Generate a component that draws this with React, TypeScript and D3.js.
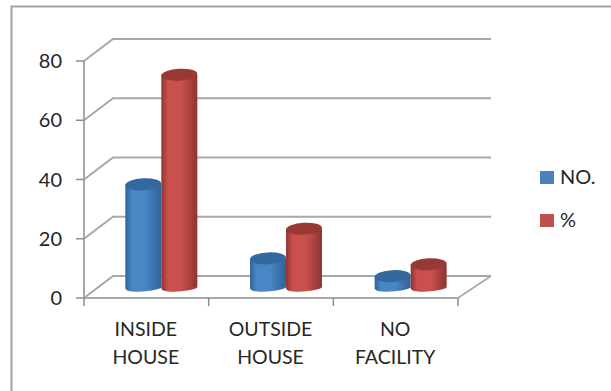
import React from "react";
import * as d3 from "d3";

const categories = [["INSIDE", "HOUSE"], ["OUTSIDE", "HOUSE"], ["NO", "FACILITY"]];
const countValues = [35, 10, 4];
const percentValues = [72, 20, 8];
const yTicks = [0, 20, 40, 60, 80];
const seriesNames = ["NO.", "%"];

const W = 611;
const H = 391;
const FONT = "Lato, 'Open Sans', sans-serif";
const AXIS = "#a8a8a8";
const TEXT = "#262626";

// Floor and wall of the 3D plot box
const frontLeft = 84;
const frontRight = 458;
const depthX = 29;
const depthY = -22;

const y = d3.scaleLinear().domain([0, 80]).range([298, 61]);
const x = d3.scaleBand<number>().domain([0, 1, 2]).range([frontLeft, frontRight]);
const barWidth = 36;
const baseLift = 10;
const ry = 6;

function Cylinder({ cx, value, fill, top }: { cx: number; value: number; fill: string; top: string }) {
  const yBase = y(0) - baseLift;
  const yTop = y(value) - baseLift;
  const rx = barWidth / 2;
  const d = d3.path();
  d.moveTo(cx - rx, yTop);
  d.lineTo(cx - rx, yBase);
  d.bezierCurveTo(cx - rx, yBase + ry * 1.2, cx + rx, yBase + ry * 0.4, cx + rx, yBase - 1);
  d.lineTo(cx + rx, yTop);
  d.closePath();
  return (
    <g>
      <path d={d.toString()} fill={`url(#${fill})`} />
      <ellipse cx={cx} cy={yTop} rx={rx} ry={ry} fill={top} transform={`rotate(-3 ${cx} ${yTop})`} />
    </g>
  );
}

function Gradient({ id, edge, mid }: { id: string; edge: string; mid: string }) {
  return (
    <linearGradient id={id} x1="0" x2="1" y1="0" y2="0">
      <stop offset="0" stopColor={edge} />
      <stop offset="0.18" stopColor={mid} />
      <stop offset="0.55" stopColor={mid} />
      <stop offset="1" stopColor={edge} />
    </linearGradient>
  );
}

export default function App() {
  const ticksX = [0, 1, 2, 3].map((i) => frontLeft + (i * (frontRight - frontLeft)) / 3);
  return (
    <svg width={W} height={H} style={{ position: "fixed", left: 0, top: 0, background: "#fff" }}>
      <defs>
        <Gradient id="blueBody" edge="#2f6399" mid="#4a86c6" />
        <Gradient id="redBody" edge="#8f3432" mid="#c9504d" />
      </defs>

      {/* outer chart frame */}
      <path d={`M611 6.5H11.5V391`} fill="none" stroke="#a3a3a3" strokeWidth={2} />

      {/* back-wall gridlines with their side-wall returns */}
      {yTicks.map((t) => (
        <path
          key={t}
          d={`M${frontLeft} ${y(t)}L${frontLeft + depthX} ${y(t) + depthY}H491`}
          fill="none"
          stroke={AXIS}
          strokeWidth={2}
        />
      ))}

      {/* floor */}
      <path d={`M${frontRight} ${y(0)}L491 ${y(0) + depthY}`} fill="none" stroke={AXIS} strokeWidth={1.6} />
      <path d={`M${frontLeft} ${y(0)}H${frontRight}`} stroke={AXIS} strokeWidth={2} fill="none" />
      <path d={`M${frontLeft} ${y(80)}V${y(0)}`} stroke={AXIS} strokeWidth={2} fill="none" />

      {/* axis ticks */}
      {yTicks.map((t) => (
        <path key={t} d={`M${frontLeft - 8} ${y(t)}H${frontLeft}`} stroke="#8c8c8c" strokeWidth={1.5} />
      ))}
      {ticksX.map((tx) => (
        <path key={tx} d={`M${tx} ${y(0)}V306`} stroke="#8c8c8c" strokeWidth={1.5} />
      ))}

      {/* y-axis labels */}
      {yTicks.map((t) => (
        <text key={t} x={62} y={y(t) + 7} textAnchor="end" fontFamily={FONT} fontSize={20} fill={TEXT}>
          {t}
        </text>
      ))}

      {/* cylinders, one pair per category */}
      {categories.map((_, i) => {
        const c = (x(i) as number) + x.bandwidth() / 2;
        return (
          <g key={i}>
            <Cylinder cx={c - 3} value={countValues[i]} fill="blueBody" top="#33699f" />
            <Cylinder cx={c + 33} value={percentValues[i]} fill="redBody" top="#983936" />
          </g>
        );
      })}

      {/* category labels */}
      {categories.map((lines, i) => {
        const c = (x(i) as number) + x.bandwidth() / 2;
        return (
          <text key={i} textAnchor="middle" fontFamily={FONT} fontSize={19.5} fill={TEXT}>
            {lines.map((line, j) => (
              <tspan key={j} x={c - 0.5} y={336 + j * 28}>
                {line}
              </tspan>
            ))}
          </text>
        );
      })}

      {/* legend */}
      {seriesNames.map((name, i) => (
        <g key={name}>
          <rect x={540} y={171 + i * 43} width={14} height={13} fill={i === 0 ? "#4a82be" : "#c0504d"} />
          <text x={560} y={184 + i * 43} fontFamily={FONT} fontSize={20} fill={TEXT}>
            {name}
          </text>
        </g>
      ))}
    </svg>
  );
}
